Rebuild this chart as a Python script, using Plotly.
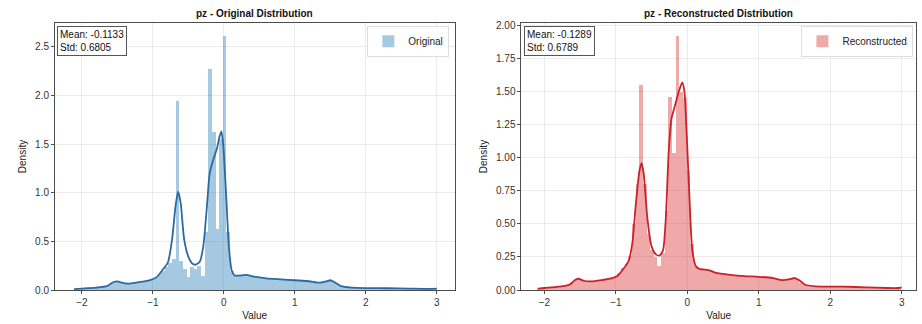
import numpy as np
import plotly.graph_objects as go
from plotly.subplots import make_subplots

# ---- Original pz: histogram (density) ----
orig_bin_start = -2.11
orig_bin_width = 0.0511
orig_density = [
    0.012, 0.012, 0.015, 0.018, 0.020, 0.022, 0.025, 0.030, 0.035, 0.045,
    0.070, 0.090, 0.080, 0.070, 0.065, 0.065, 0.070, 0.075, 0.080, 0.085,
    0.090, 0.100, 0.120, 0.160, 0.200, 0.240, 0.280, 0.320, 1.940, 0.300,
    0.220, 0.130, 0.240, 0.220, 0.250, 0.140, 0.600, 2.270, 1.620, 0.630,
    1.550, 2.610, 0.600, 0.200, 0.150, 0.150, 0.155, 0.155, 0.145, 0.135,
    0.130, 0.125, 0.120, 0.120, 0.115, 0.115, 0.110, 0.110, 0.105, 0.100,
    0.100, 0.100, 0.095, 0.090, 0.090, 0.085, 0.080, 0.075, 0.080, 0.095,
    0.100, 0.085, 0.060, 0.040, 0.032, 0.028, 0.025, 0.022, 0.020, 0.020,
    0.020, 0.020, 0.019, 0.019, 0.018, 0.018, 0.017, 0.017, 0.016, 0.016,
    0.015, 0.015, 0.014, 0.014, 0.013, 0.013, 0.012, 0.012, 0.014, 0.020,
]

# ---- Original pz: kernel density estimate ----
orig_kde_x = [
    -2.11, -2.00, -1.80, -1.65, -1.56, -1.50, -1.44, -1.35, -1.20, -1.05,
    -0.95, -0.86, -0.79, -0.73, -0.68, -0.645, -0.61, -0.56, -0.50, -0.45,
    -0.40, -0.34, -0.29, -0.24, -0.20, -0.15, -0.10, -0.06, -0.035, -0.01,
    0.03, 0.07, 0.11, 0.15, 0.25, 0.32, 0.40, 0.60, 0.80, 1.00,
    1.20, 1.35, 1.45, 1.50, 1.56, 1.65, 1.80, 2.00, 2.30, 2.60,
    2.90, 3.00,
]
orig_kde_y = [
    0.010, 0.015, 0.025, 0.040, 0.080, 0.088, 0.075, 0.065, 0.080, 0.100,
    0.130, 0.210, 0.280, 0.520, 0.870, 1.010, 0.900, 0.520, 0.340, 0.275,
    0.260, 0.290, 0.450, 0.850, 1.200, 1.340, 1.450, 1.580, 1.630, 1.500,
    1.000, 0.450, 0.200, 0.150, 0.150, 0.155, 0.140, 0.120, 0.110, 0.100,
    0.090, 0.075, 0.090, 0.100, 0.080, 0.040, 0.025, 0.020, 0.018, 0.015,
    0.012, 0.015,
]

# ---- Reconstructed pz: histogram (density) ----
rec_bin_start = -2.09
rec_bin_width = 0.0509
rec_density = [
    0.012, 0.014, 0.016, 0.018, 0.020, 0.022, 0.026, 0.030, 0.035, 0.050,
    0.080, 0.085, 0.072, 0.066, 0.065, 0.068, 0.072, 0.076, 0.080, 0.085,
    0.090, 0.100, 0.130, 0.170, 0.200, 0.260, 0.500, 0.800, 1.550, 0.800,
    0.420, 0.300, 0.250, 0.180, 0.280, 0.600, 1.460, 1.040, 1.920, 1.500,
    1.450, 0.900, 0.350, 0.180, 0.160, 0.155, 0.150, 0.150, 0.140, 0.130,
    0.125, 0.120, 0.118, 0.115, 0.112, 0.110, 0.108, 0.106, 0.104, 0.102,
    0.100, 0.100, 0.097, 0.094, 0.091, 0.088, 0.085, 0.078, 0.078, 0.085,
    0.095, 0.080, 0.055, 0.040, 0.032, 0.028, 0.026, 0.026, 0.025, 0.025,
    0.025, 0.024, 0.024, 0.023, 0.022, 0.022, 0.021, 0.020, 0.020, 0.019,
    0.018, 0.018, 0.017, 0.017, 0.016, 0.016, 0.015, 0.015, 0.018, 0.025,
]

# ---- Reconstructed pz: kernel density estimate ----
rec_kde_x = [
    -2.09, -2.00, -1.80, -1.65, -1.57, -1.52, -1.45, -1.35, -1.20, -1.05,
    -0.97, -0.88, -0.82, -0.77, -0.72, -0.67, -0.64, -0.61, -0.56, -0.50,
    -0.44, -0.39, -0.34, -0.30, -0.26, -0.22, -0.17, -0.12, -0.07, -0.04,
    -0.01, 0.03, 0.07, 0.12, 0.17, 0.30, 0.40, 0.60, 0.80, 1.00,
    1.20, 1.32, 1.42, 1.50, 1.56, 1.65, 1.80, 2.00, 2.20, 2.50,
    2.80, 2.95, 3.00,
]
rec_kde_y = [
    0.010, 0.015, 0.025, 0.040, 0.075, 0.085, 0.070, 0.065, 0.075, 0.090,
    0.110, 0.170, 0.220, 0.350, 0.650, 0.900, 0.960, 0.880, 0.550, 0.330,
    0.270, 0.260, 0.300, 0.550, 1.050, 1.300, 1.400, 1.500, 1.570, 1.500,
    1.200, 0.700, 0.300, 0.180, 0.160, 0.150, 0.130, 0.115, 0.105, 0.100,
    0.090, 0.075, 0.080, 0.090, 0.075, 0.040, 0.028, 0.025, 0.025, 0.020,
    0.015, 0.015, 0.020,
]

orig_stats = "Mean: -0.1133<br>Std: 0.6805"
rec_stats = "Mean: -0.1289<br>Std: 0.6789"


def bin_centers(start, width, n):
    return [start + width * (i + 0.5) for i in range(n)]


FONT = "Liberation Sans, Arial, sans-serif"
AXIS_LINE = "#4d4d4d"
GRID = "#ebebeb"

fig = make_subplots(rows=1, cols=2, horizontal_spacing=0.0)

fig.add_trace(go.Bar(
    x=bin_centers(orig_bin_start, orig_bin_width, len(orig_density)),
    y=orig_density, width=orig_bin_width,
    marker=dict(color="rgba(31,119,180,0.4)", line=dict(width=0)),
    name="Original", legend="legend", showlegend=True,
), row=1, col=1)
fig.add_trace(go.Scatter(
    x=orig_kde_x, y=orig_kde_y, mode="lines",
    line=dict(color="#2a6aa0", width=1.8, shape="spline", smoothing=0.6),
    showlegend=False,
), row=1, col=1)

fig.add_trace(go.Bar(
    x=bin_centers(rec_bin_start, rec_bin_width, len(rec_density)),
    y=rec_density, width=rec_bin_width,
    marker=dict(color="rgba(214,39,40,0.4)", line=dict(width=0)),
    name="Reconstructed", legend="legend2", showlegend=True,
), row=1, col=2)
fig.add_trace(go.Scatter(
    x=rec_kde_x, y=rec_kde_y, mode="lines",
    line=dict(color="#c9222b", width=1.8, shape="spline", smoothing=0.6),
    showlegend=False,
), row=1, col=2)

axis_common = dict(
    showline=True, linecolor=AXIS_LINE, linewidth=1, mirror=True,
    showgrid=True, gridcolor=GRID, gridwidth=1,
    ticks="outside", ticklen=3, tickcolor=AXIS_LINE,
    tickfont=dict(family=FONT, size=10, color="#333333"),
    zeroline=False,
)

fig.update_xaxes(**axis_common, tickvals=[-2, -1, 0, 1, 2, 3],
                 title=dict(text="Value", font=dict(family=FONT, size=10, color="#222222"), standoff=4))
fig.update_xaxes(range=[-2.38, 3.25], domain=[0.0, 0.464], row=1, col=1)
fig.update_xaxes(range=[-2.32, 3.2], domain=[0.5418, 1.0], row=1, col=2)

fig.update_yaxes(**axis_common,
                 title=dict(text="Density", font=dict(family=FONT, size=10, color="#222222"), standoff=6))
fig.update_yaxes(range=[0, 2.745], tickvals=[0, 0.5, 1.0, 1.5, 2.0, 2.5], tickformat=".1f", row=1, col=1)
fig.update_yaxes(range=[0, 2.02], tickvals=[0, 0.25, 0.5, 0.75, 1.0, 1.25, 1.5, 1.75, 2.0],
                 tickformat=".2f", row=1, col=2)

annotations = []
for ax, title, stats in [("", "pz - Original Distribution", orig_stats),
                         ("2", "pz - Reconstructed Distribution", rec_stats)]:
    annotations.append(dict(
        xref=f"x{ax} domain", yref=f"y{ax} domain", x=0.5, y=1.0,
        xanchor="center", yanchor="bottom", yshift=2, showarrow=False,
        text=f"<b>{title}</b>", font=dict(family=FONT, size=10, color="#111111"),
    ))
    annotations.append(dict(
        xref=f"x{ax} domain", yref=f"y{ax} domain", x=0.006, y=0.99,
        xanchor="left", yanchor="top", showarrow=False, align="left",
        text=stats, font=dict(family=FONT, size=10, color="#111111"),
        bgcolor="white", bordercolor="#555555", borderwidth=1, borderpad=2,
    ))

legend_common = dict(
    bgcolor="rgba(255,255,255,0.85)", bordercolor="#dddddd", borderwidth=1,
    font=dict(family=FONT, size=10, color="#222222"),
    xanchor="right", yanchor="top",
)

fig.update_layout(
    width=922, height=324,
    margin=dict(l=55, r=5, t=23, b=31),
    paper_bgcolor="white", plot_bgcolor="white",
    bargap=0, barmode="overlay",
    annotations=annotations,
    legend=dict(**legend_common, x=0.458, y=0.99),
    legend2=dict(**legend_common, x=0.997, y=0.99),
    font=dict(family=FONT),
)

fig.write_html("out.html")
